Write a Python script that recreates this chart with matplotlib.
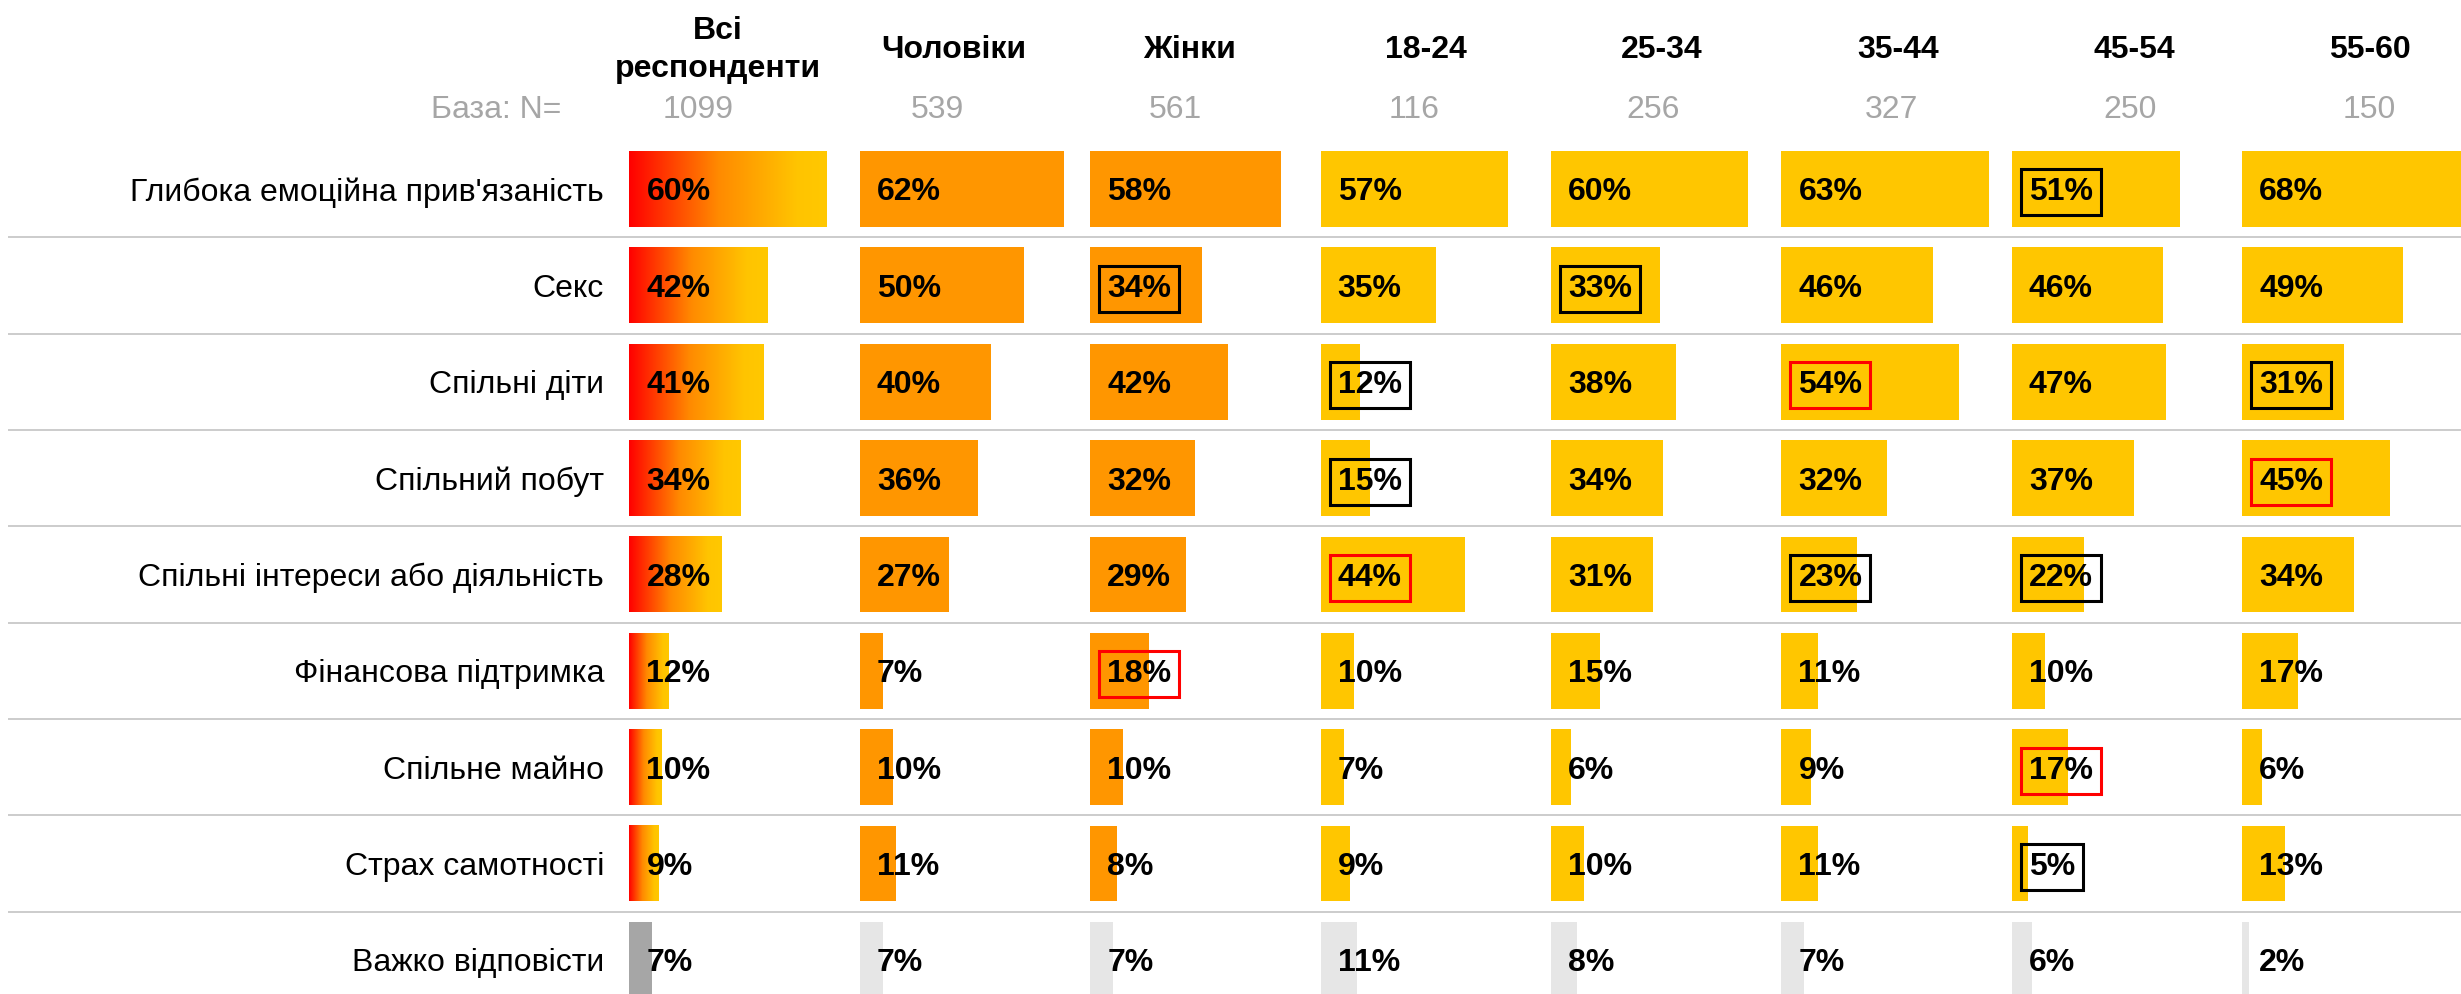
import numpy as np
import matplotlib
matplotlib.use("Agg")
import matplotlib.pyplot as plt
from matplotlib.colors import LinearSegmentedColormap

plt.rcParams['font.family'] = ['Liberation Sans', 'DejaVu Sans']

# data
rows = ["Глибока емоційна прив'язаність", "Секс", "Спільні діти", "Спільний побут",
        "Спільні інтереси або діяльність", "Фінансова підтримка", "Спільне майно",
        "Страх самотності", "Важко відповісти"]
groups = ["Всі\nреспонденти", "Чоловіки", "Жінки", "18-24", "25-34", "35-44", "45-54", "55-60"]
base_n = [1099, 539, 561, 116, 256, 327, 250, 150]

all_resp = [60, 42, 41, 34, 28, 12, 10, 9, 7]
men = [62, 50, 40, 36, 27, 7, 10, 11, 7]
women = [58, 34, 42, 32, 29, 18, 10, 8, 7]
age_18_24 = [57, 35, 12, 15, 44, 10, 7, 9, 11]
age_25_34 = [60, 33, 38, 34, 31, 15, 6, 10, 8]
age_35_44 = [63, 46, 54, 32, 23, 11, 9, 11, 7]
age_45_54 = [51, 46, 47, 37, 22, 10, 17, 5, 6]
age_55_60 = [68, 49, 31, 45, 34, 17, 6, 13, 2]
values = [all_resp, men, women, age_18_24, age_25_34, age_35_44, age_45_54, age_55_60]

# 1 = significantly lower (black box), 2 = significantly higher (red box)
marks = {(0, 6): 1, (1, 2): 1, (1, 4): 1, (2, 3): 1, (2, 7): 1, (3, 3): 1,
         (4, 5): 1, (4, 6): 1, (7, 6): 1,
         (2, 5): 2, (3, 7): 2, (4, 3): 2, (5, 2): 2, (6, 6): 2}

# layout (pixels of the 2461x994 canvas)
W, H = 2461, 994
x0 = 629.4          # left edge of first column of bars
px_per_pct = 3.29
col_step = 230.4 / px_per_pct
row0_px, row_px = 189.0, 96.36
bar_h = 0.786
fs = 23

fig = plt.figure(figsize=(W / 100, H / 100), dpi=100)
top_px = row0_px - 0.5 * row_px
ax = fig.add_axes([x0 / W, 0, (W - x0) / W, 1 - top_px / H])
xmax = (W - x0) / px_per_pct
ymax = (H - row0_px) / row_px

grad = LinearSegmentedColormap.from_list(
    "grad", [(0, "#ff0000"), (0.45, "#ff8a00"), (0.85, "#ffc400"), (1, "#ffc800")])
col_colors = ["grad", "#ff9600", "#ff9600", "#ffc600", "#ffc600", "#ffc600", "#ffc600", "#ffc600"]

# baseline shift so the cap height is centred on the row
cap_shift = 0.716 * fs * 100 / 72 / 2 / row_px

y = np.arange(len(rows))
for c, vals in enumerate(values):
    off = c * col_step
    for r, v in enumerate(vals):
        last = r == len(rows) - 1
        if last:
            ax.barh(r, v, left=off, height=bar_h, color="#a6a6a6" if c == 0 else "#e6e6e6")
        elif col_colors[c] == "grad":
            ax.imshow(np.linspace(0, 1, 256).reshape(1, -1), cmap=grad, aspect="auto",
                      extent=[off, off + v, r + bar_h / 2, r - bar_h / 2], zorder=2)
        else:
            ax.barh(r, v, left=off, height=bar_h, color=col_colors[c])
        m = marks.get((r, c), 0)
        bbox = None
        if m:
            bbox = dict(boxstyle="square,pad=0.25", fc="none",
                        ec="#000000" if m == 1 else "#ff0000", lw=2.2)
        ax.text(off + 17 / px_per_pct, r + cap_shift, f"{v}%", ha="left", va="baseline",
                fontsize=fs, fontweight="bold", color="black", bbox=bbox, zorder=5)

ax.set_xlim(0, xmax)
ax.set_ylim(ymax, -0.5)

# separators
ax.hlines(y[:-1] + 0.5, (8 - x0) / px_per_pct, xmax, color="#c8c8c8", lw=1.3, clip_on=False)

# row labels
ax.set_yticks(y, rows, fontsize=fs)
ax.tick_params(axis="y", length=0, pad=25.4 * 0.72)
ax.set_xticks([])
for s in ax.spines.values():
    s.set_visible(False)

# headers and bases
head_y = (50 - row0_px) / row_px
n_y = (110 - row0_px) / row_px
for c, g in enumerate(groups):
    hx = (718 - x0) / px_per_pct + c * 236 / px_per_pct
    ax.text(hx, head_y, g, ha="center", va="center", fontsize=fs, fontweight="bold",
            linespacing=1.35, clip_on=False)
    nx = (698.6 - x0) / px_per_pct + c * 238.6 / px_per_pct
    ax.text(nx, n_y, str(base_n[c]), ha="center", va="center", fontsize=fs,
            color="#a6a6a6", clip_on=False)
ax.text((561 - x0) / px_per_pct, n_y, "База: N=", ha="right", va="center", fontsize=fs,
        color="#a6a6a6", clip_on=False)

fig.savefig("out.png", dpi=100)
